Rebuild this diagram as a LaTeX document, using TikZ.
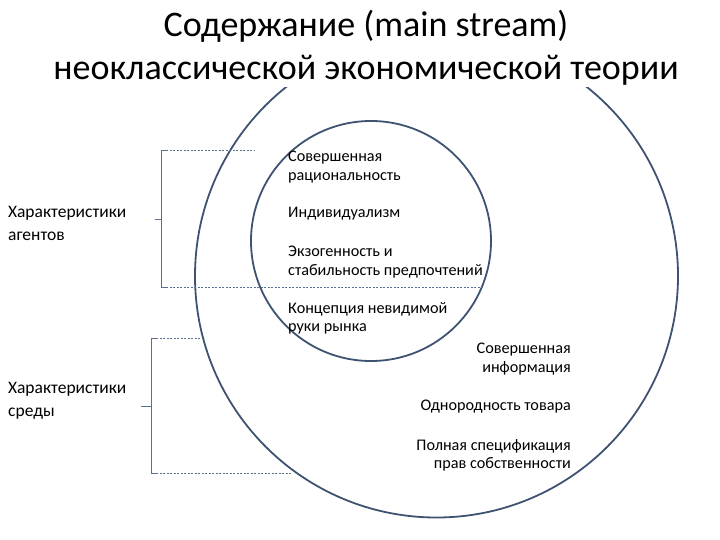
\documentclass[tikz,border=0pt]{standalone}
\usepackage{fontspec}
\setmainfont{Carlito}
\begin{document}
\begin{tikzpicture}[x=1pt,y=-1pt,
  circ/.style={draw=circ,line width=1.8pt},
  brk/.style={draw=brk,line width=0.7pt},
  dsh/.style={draw=brk,line width=0.5pt,dash pattern=on 2pt off 1.5pt},
  txt/.style={font=\fontsize{16.2}{18.5}\selectfont, inner sep=0pt},
  lab/.style={font=\fontsize{17.5}{23}\selectfont, inner sep=0pt, align=left, anchor=north west}]
\definecolor{circ}{HTML}{3E5272}
\definecolor{brk}{HTML}{5A7090}
\useasboundingbox (0,0) rectangle (720,540);
\node[circ,circle,minimum size=483pt,inner sep=0pt] (outer) at (436.5,276) {};
\node[circ,circle,minimum size=240pt,inner sep=0pt] (inner) at (371,241) {};
\node[font=\fontsize{36}{43}\selectfont, align=center, inner sep=1pt, fill=white] (title) at (366,48)
  {Содержание (main stream)\\неоклассической экономической теории};
\node[txt,align=left,anchor=north west] (t1) at (288,151) {Совершенная\\рациональность};
\node[txt,anchor=north west] (t2) at (288,207) {Индивидуализм};
\node[txt,align=left,anchor=north west] (t3) at (288,246) {Экзогенность и\\стабильность предпочтений};
\node[txt,align=left,anchor=north west] (t4) at (288,302) {Концепция невидимой\\руки рынка};
\node[txt,align=right,anchor=north east] (r1) at (571,343) {Совершенная\\информация};
\node[txt,anchor=north east] (r2) at (571,400) {Однородность товара};
\node[txt,align=right,anchor=north east] (r3) at (571,439) {Полная спецификация\\прав собственности};
\node[lab] (la) at (8,206) {Характеристики\\агентов};
\node[lab] (ls) at (8,382) {Характеристики\\среды};
\coordinate (a1) at (161,150); \coordinate (a2) at (161,287);
\coordinate (s1) at (151,338); \coordinate (s2) at (151,473);
\draw[brk] (155,219) -- (161,219);
\draw[brk] (166,150) -- (a1) -- (a2) -- (166,287);
\draw[dsh] (166,150) -- (255,150);
\draw[dsh] (166,287) -- (482,287);
\draw[brk] (141,406) -- (151,406);
\draw[brk] (156,338) -- (s1) -- (s2) -- (156,473);
\draw[dsh] (156,338) -- (200,338);
\draw[dsh] (156,473) -- (292,473);
\end{tikzpicture}
\end{document}
